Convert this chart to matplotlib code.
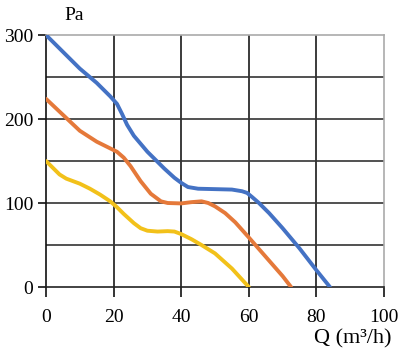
import matplotlib
matplotlib.use("Agg")
import matplotlib.pyplot as plt

blue_q = [0, 5, 10, 15, 19, 21, 22.5, 24, 26, 30, 35, 38, 40, 42, 45, 50, 55, 58, 59.5, 61, 63, 66, 70, 75, 80, 84]
blue_p = [300, 280, 260, 243, 227, 218, 206, 193, 180, 161, 141, 130, 124, 119, 117, 116.5, 116, 114, 112, 107, 100, 88, 70, 46, 20, 0]
orange_q = [0, 5, 10, 15, 19, 21, 23, 25, 28, 31, 34, 36, 40, 43, 46, 48, 50, 53, 56, 60, 65, 70, 72.5]
orange_p = [224, 205, 186, 173, 165, 161, 154, 144, 126, 111, 102, 100, 99.5, 101, 102, 100, 96, 88, 77, 59, 36, 13, 0]
yellow_q = [0, 2, 4, 6, 8, 10, 13, 16, 19, 21, 23, 26, 28, 30, 33, 36, 38, 40, 43, 46, 50, 55, 60]
yellow_p = [150, 142, 134, 129, 126, 123, 117, 110, 102, 95, 87, 76, 70, 67, 66, 66.5, 66, 63, 57, 50, 40, 22, 0]
x_ticks = [0, 20, 40, 60, 80, 100]
y_ticks = [0, 100, 200, 300]

plt.rcParams['font.family'] = ['Liberation Serif', 'DejaVu Serif']

fig = plt.figure(figsize=(3.99, 3.55), dpi=100)
ax = fig.add_axes([46/399, 1-287/355, (384-46)/399, (287-35)/355])
ax.set_xlim(0, 100)
ax.set_ylim(0, 300)

for q in [20, 40, 60, 80]:
    ax.axvline(q, color='#1a1a1a', lw=1.2, zorder=1)
for p in [50, 100, 150, 200, 250]:
    ax.axhline(p, color='#333333', lw=1.2, zorder=1)

lw = 2.8
ax.plot(yellow_q, yellow_p, color='#F2C11A', lw=lw, solid_capstyle='round', solid_joinstyle='round', zorder=3)
ax.plot(orange_q, orange_p, color='#E5793A', lw=lw, solid_capstyle='round', solid_joinstyle='round', zorder=3)
ax.plot(blue_q, blue_p, color='#4472C4', lw=lw, solid_capstyle='round', solid_joinstyle='round', zorder=3)

ax.spines['left'].set_color('#111111')
ax.spines['bottom'].set_color('#222222')
ax.spines['top'].set_color('#aaaaaa')
ax.spines['right'].set_color('#aaaaaa')
for s in ax.spines.values():
    s.set_linewidth(1.2)

ax.set_xticks(x_ticks)
ax.set_yticks(y_ticks)
ax.set_xticklabels([str(v) for v in x_ticks])
ax.set_yticklabels([str(v) for v in y_ticks])
ax.tick_params(axis='x', length=7, width=1.2, color='#111111', pad=9, labelsize=14)
ax.tick_params(axis='y', length=6, width=1.2, color='#111111', pad=3, labelsize=14)

fig.text(64/399, 1-15/355, 'Pa', fontsize=14, ha='left', va='center')
fig.text(353/399, 1-339/355, 'Q (m\u00b3/h)', fontsize=16, ha='center', va='center')

fig.savefig('out.png', dpi=100)
